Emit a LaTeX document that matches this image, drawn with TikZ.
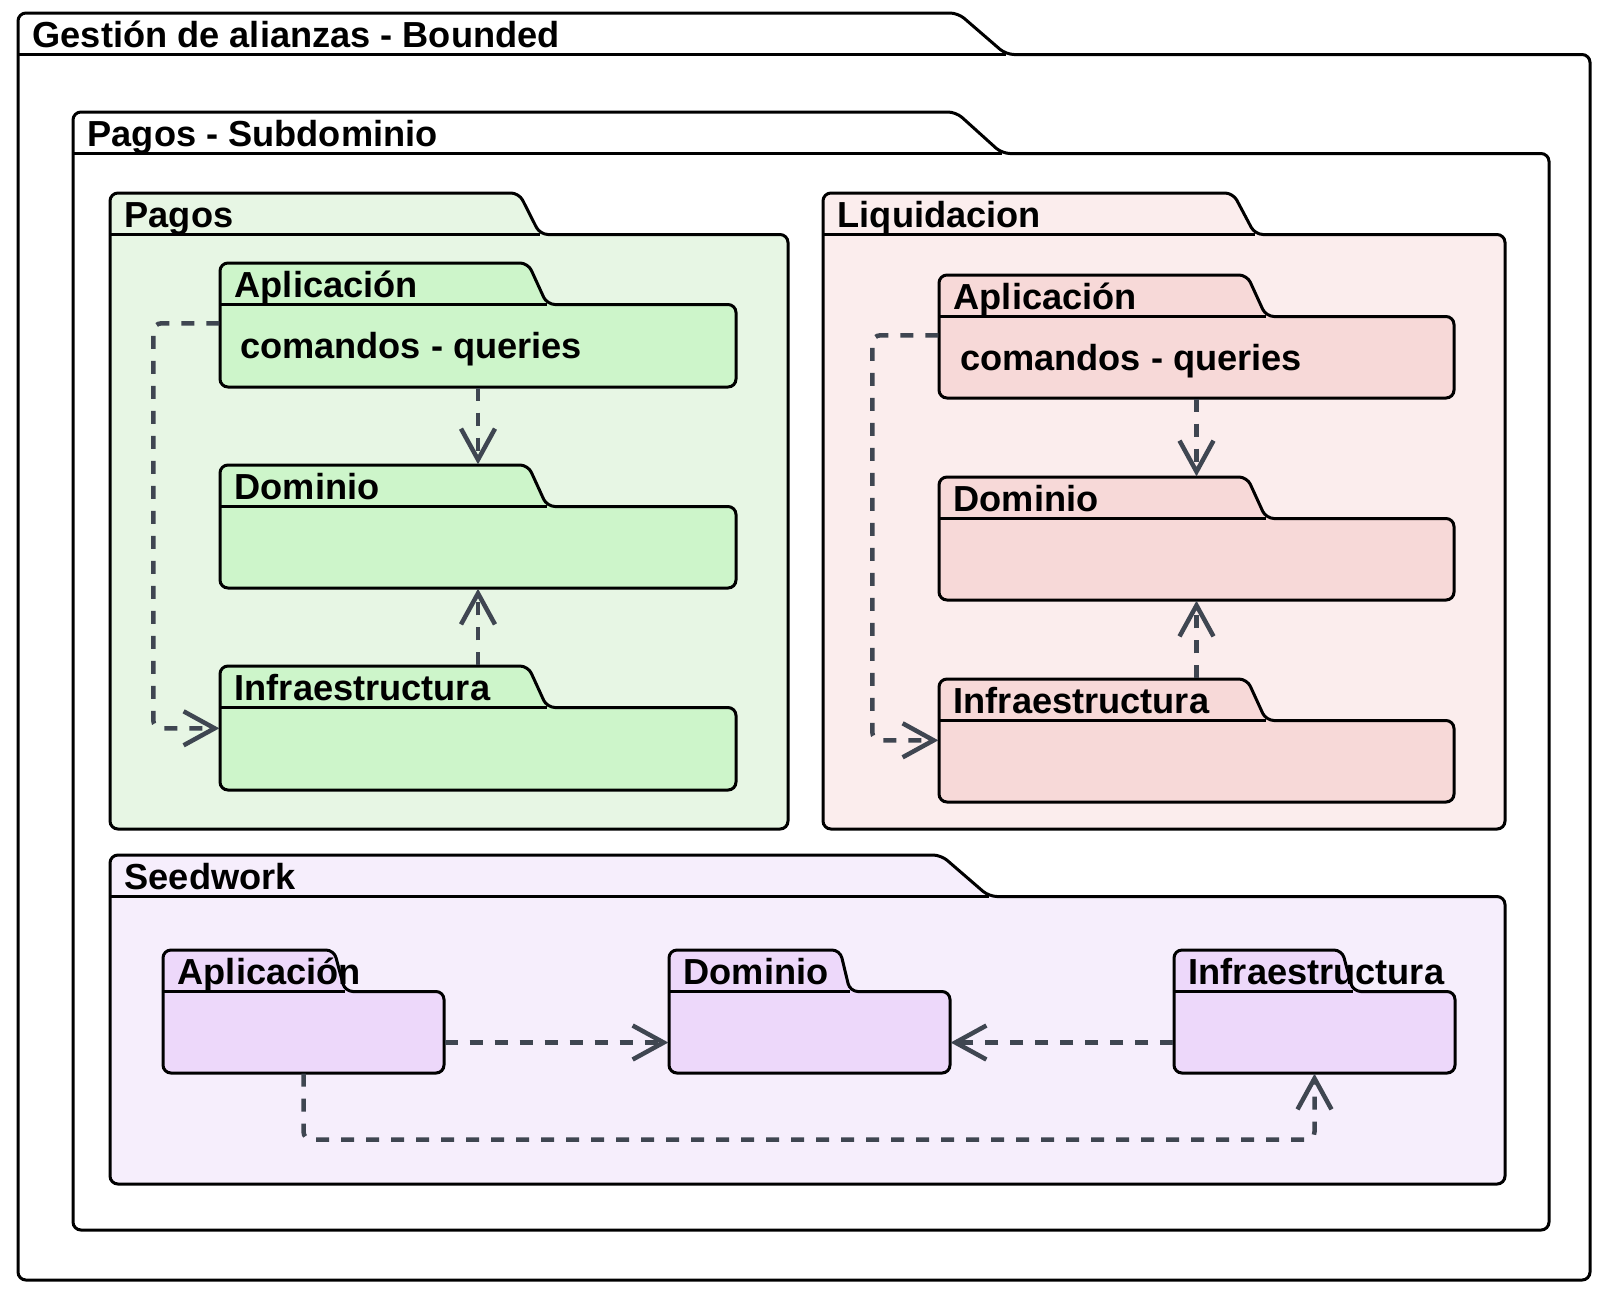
\documentclass[tikz,border=0pt]{standalone}
\usepackage{fontspec}
\setmainfont{Liberation Sans}
\usetikzlibrary{arrows.meta,calc,fit}

\definecolor{pagosbg}{HTML}{E7F6E4}
\definecolor{pagosin}{HTML}{CDF5CA}
\definecolor{liqbg}{HTML}{FBEDED}
\definecolor{liqin}{HTML}{F7D9D8}
\definecolor{seedbg}{HTML}{F6EEFC}
\definecolor{seedin}{HTML}{EDD8FA}
\definecolor{depgray}{HTML}{3F4651}

\tikzset{
  pkgline/.style={draw=black, line width=0.3mm, rounded corners=0.8mm},
  pkgtitle/.style={anchor=base west, inner sep=0pt, font=\fontsize{10.3}{12}\selectfont\bfseries},
  dep/.style={draw=depgray, line width=0.45mm, dash pattern=on 1.3mm off 1.2mm,
    rounded corners=0.8mm, -{Straight Barb[length=3.1mm,width=3.4mm]}},
}

% package: name, left, tab top, right, bottom, tab corner, tab end, fill, title
\newcommand{\umlpkg}[9]{%
  \filldraw[pkgline, fill=#8] (#2,#3+41.5) -- (#2,#3) -- (#6,#3) -- (#7,#3+41.5)
    -- (#4,#3+41.5) -- (#4,#5) -- (#2,#5) -- cycle;
  \draw[pkgline] (#2,#3+41.5) -- (#7,#3+41.5);
  \node[fit={(#2,#3) (#4,#5)}, inner sep=0pt] (#1) {};
  \node[pkgtitle] (#1title) at (#2+14,#3+34) {#9};
}

\begin{document}
\begin{tikzpicture}[x=0.1mm, y=-0.1mm]
        \path[fill=white] (0,0) rectangle (1598,1294);
        \useasboundingbox (0,0) rectangle (1598,1294);

        % outer packages
        \umlpkg{gab}{18}{13}{1590}{1280}{958}{1006}{white}{Gestión de alianzas - Bounded}
        \umlpkg{psub}{73}{112}{1549}{1230}{956}{1002}{white}{Pagos - Subdominio}

        % Pagos
        \umlpkg{pag}{110}{193}{788}{829}{519}{540}{pagosbg}{Pagos}
        \umlpkg{papp}{220}{263}{736}{387}{528}{547}{pagosin}{Aplicación}
        \umlpkg{pdom}{220}{465}{736}{588}{528}{547}{pagosin}{Dominio}
        \umlpkg{pinf}{220}{666}{736}{790}{528}{547}{pagosin}{Infraestructura}
        \node[pkgtitle] (pcmd) at ($(papp.north west)+(20,96)$) {comandos - queries};

        \draw[dep] (papp.south) -- (pdom.north);
        \draw[dep] (pinf.north) -- (pdom.south);
        \draw[dep] ($(papp.north west)+(0,61)$) -- ++(-66,0) |- ($(pinf.north west)+(0,63)$);

        % Liquidacion
        \umlpkg{liq}{823}{193}{1505}{829}{1233}{1255}{liqbg}{Liquidacion}
        \umlpkg{lapp}{939}{275}{1454}{398}{1247}{1266}{liqin}{Aplicación}
        \umlpkg{ldom}{939}{477}{1454}{600}{1247}{1266}{liqin}{Dominio}
        \umlpkg{linf}{939}{679}{1454}{802}{1247}{1266}{liqin}{Infraestructura}
        \node[pkgtitle] (lcmd) at ($(lapp.north west)+(21,96)$) {comandos - queries};

        \draw[dep] (lapp.south) -- (ldom.north);
        \draw[dep] (linf.north) -- (ldom.south);
        \draw[dep] ($(lapp.north west)+(0,61)$) -- ++(-66,0) |- ($(linf.north west)+(0,62)$);

        % Seedwork
        \umlpkg{seed}{110}{855}{1505}{1184}{941}{989}{seedbg}{Seedwork}
        \umlpkg{sapp}{163}{950}{444}{1073}{334}{345}{seedin}{Aplicación}
        \umlpkg{sdom}{669}{950}{950}{1073}{840}{850}{seedin}{Dominio}
        \umlpkg{sinf}{1174}{950}{1455}{1073}{1342}{1353}{seedin}{Infraestructura}

        \draw[dep] ($(sapp.east)+(0,31)$) -- ($(sdom.west)+(0,31)$);
        \draw[dep] ($(sinf.west)+(0,31)$) -- ($(sdom.east)+(0,31)$);
        \draw[dep] (sapp.south) -- ++(0,66) -| (sinf.south);
\end{tikzpicture}
\end{document}
